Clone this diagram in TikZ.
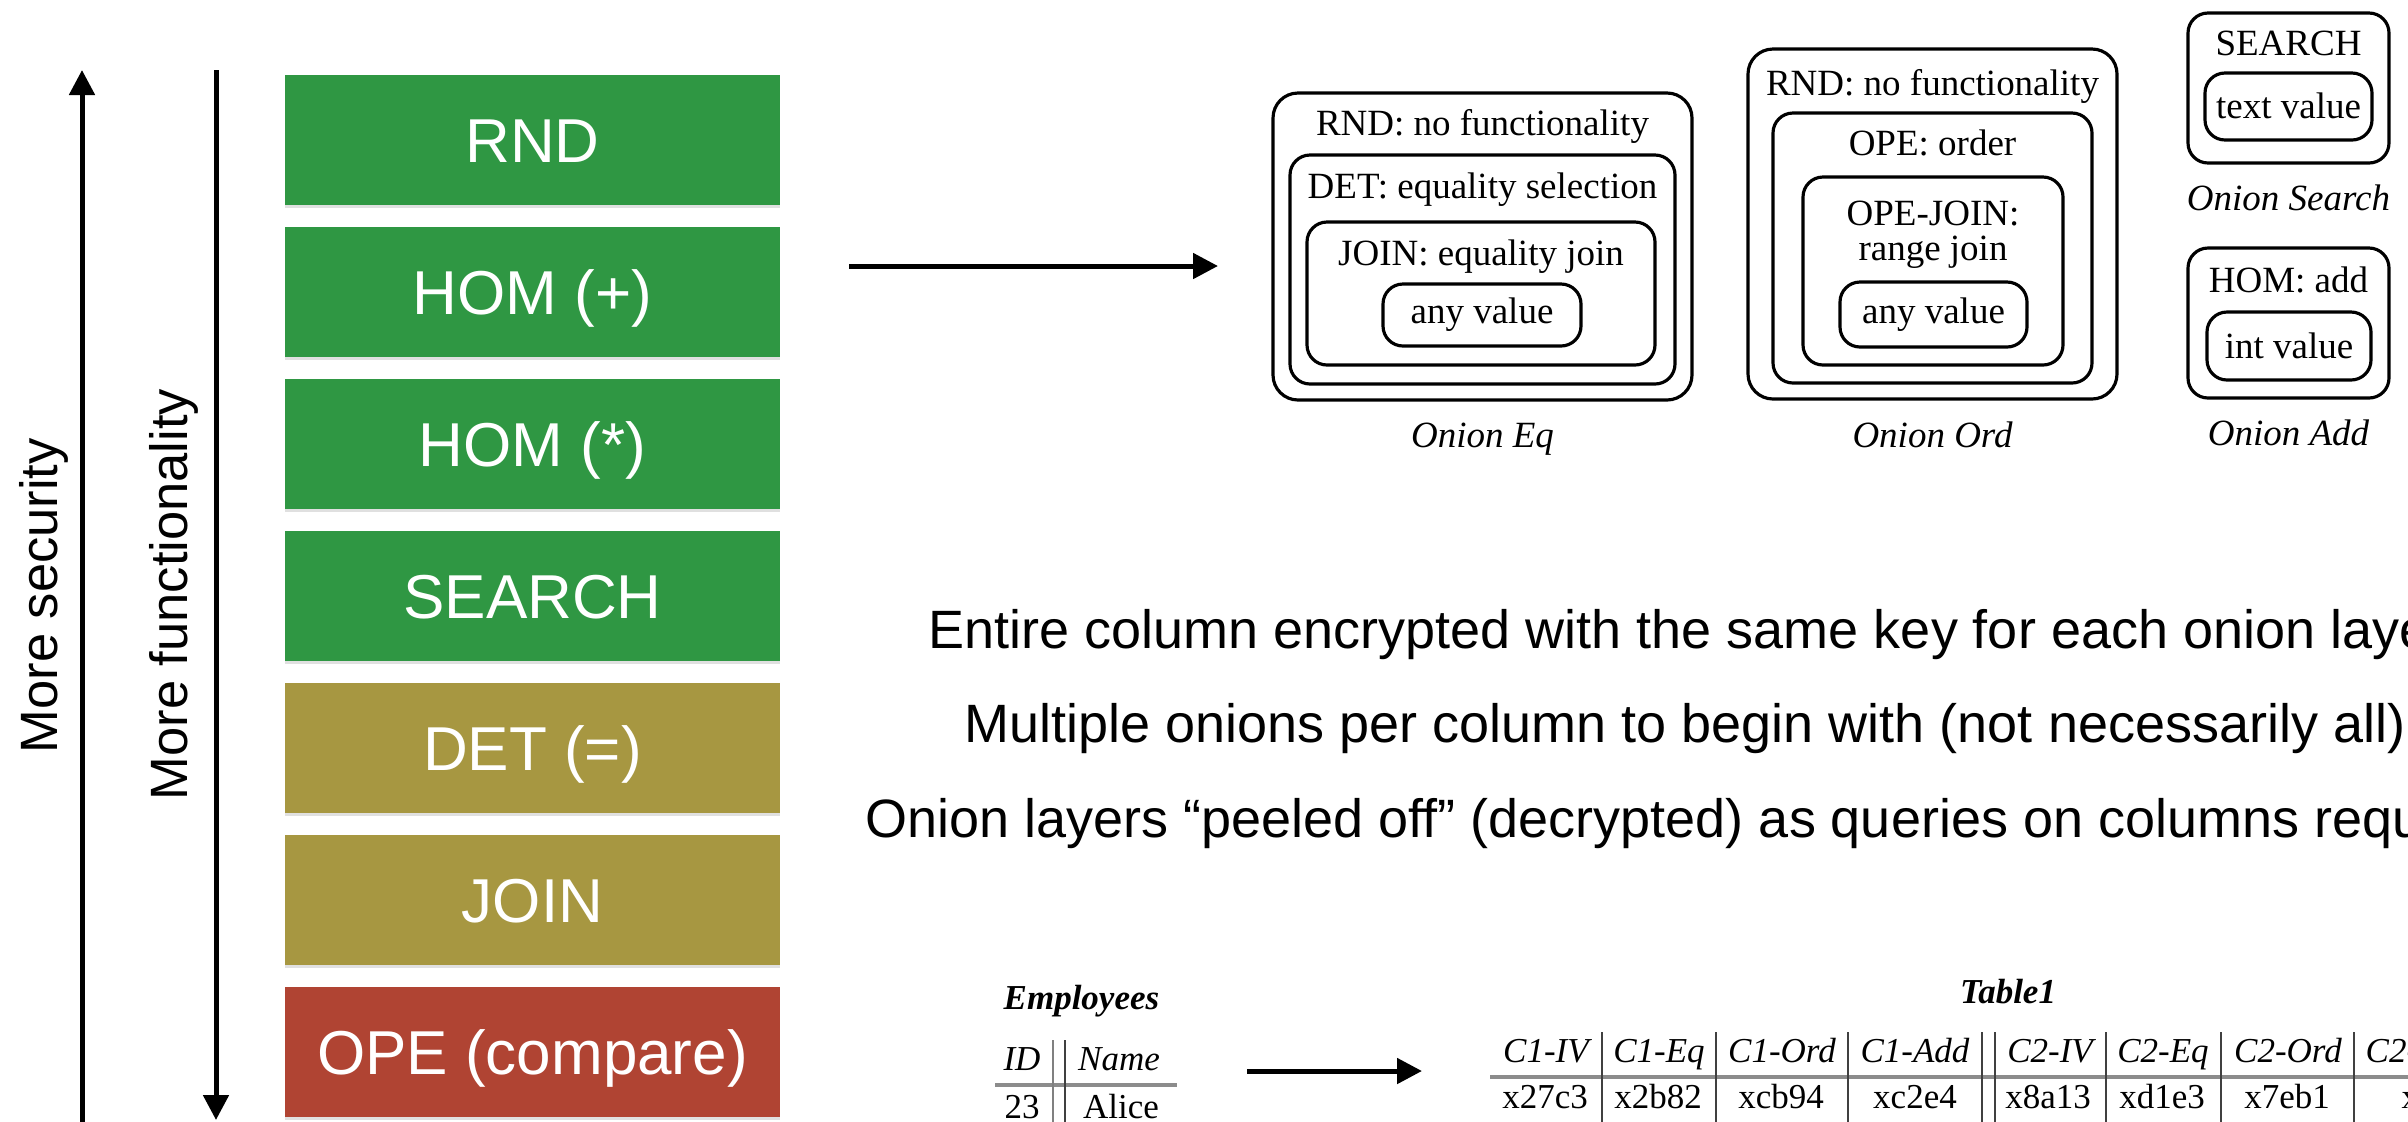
\documentclass[tikz,border=0pt]{standalone}
\usepackage{fontspec}
\setmainfont{Liberation Serif}
\newfontfamily\hsans{Liberation Sans}
\usetikzlibrary{arrows.meta,shadows}
\definecolor{lgreen}{RGB}{47,151,67}
\definecolor{lolive}{RGB}{167,151,65}
\definecolor{lred}{RGB}{176,68,51}
\begin{document}
\begin{tikzpicture}[x=0.3pt,y=-0.3pt,
  level/.style={rectangle, minimum width=148.5pt, minimum height=39pt, inner sep=0pt,
    text=white, font=\hsans\fontsize{18.6}{20}\selectfont, text height=13.3pt, text depth=0pt,
    drop shadow={shadow xshift=0pt, shadow yshift=-0.9pt, opacity=0.12, fill=black}},
  side/.style={font=\hsans\fontsize{15.75}{17}\selectfont, inner sep=0pt, rotate=90, anchor=base west},
  body/.style={font=\hsans\fontsize{16.2}{18}\selectfont, inner sep=0pt, anchor=base west},
  arr/.style={line width=1.5pt, -{Triangle[length=7.5pt,width=7.5pt]}},
  onion/.style={draw, line width=0.95pt, rounded corners=6pt, inner sep=0pt},
  otxt/.style={font=\fontsize{11.1}{13}\selectfont, inner sep=0pt, anchor=base},
  olab/.style={otxt, font=\fontsize{11.1}{13}\selectfont\itshape},
  tb/.style={font=\fontsize{10.5}{12}\selectfont, inner sep=0pt, anchor=base},
  tbh/.style={tb, font=\fontsize{10.5}{12}\selectfont\itshape},
  tbt/.style={tb, font=\fontsize{10.5}{12}\selectfont\bfseries\itshape},
  vline/.style={line width=0.75pt, black!75},
  hrule/.style={line width=1.1pt, black!45}
]
\useasboundingbox (0,0) rectangle (2408,1121);
\fill[white] (0,0) rectangle (2408,1121);
\clip (0,0) rectangle (2408,1121);

% ---- axes ----
\coordinate (secBot) at (82,1130);
\coordinate (secTop) at (82,70);
\draw[arr] (secBot) -- (secTop);
\coordinate (funTop) at (216,70);
\coordinate (funBot) at (216,1120);
\draw[arr] (funTop) -- (funBot);
\node[side] (msec) at (57,754) {More security};
\node[side] (mfun) at (187,801) {More functionality};

% ---- levels ----
\node[level, fill=lgreen] (rnd) at (532.5,140) {RND};
\node[level, fill=lgreen] (homp) at (532.5,292) {HOM (+)};
\node[level, fill=lgreen] (homm) at (532.5,444) {HOM (*)};
\node[level, fill=lgreen] (srch) at (532.5,596) {SEARCH};
\node[level, fill=lolive] (det) at (532.5,748) {DET (=)};
\node[level, fill=lolive] (join) at (532.5,900) {JOIN};
\node[level, fill=lred] (ope) at (532.5,1052) {OPE (compare)};

% ---- arrow to onions ----
\coordinate (a1s) at (849,266);
\coordinate (a1e) at (1218,266);
\draw[arr] (a1s) -- (a1e);

% ---- Onion Eq ----
\node[onion, rounded corners=7.5pt, minimum width=125.7pt, minimum height=92.1pt] (eqo) at (1482.5,246.5) {};
\node[onion, minimum width=115.5pt, minimum height=68.7pt] (eqd) at (1482.5,269.5) {};
\node[onion, minimum width=104.4pt, minimum height=42.9pt] (eqj) at (1481,293.5) {};
\node[onion, minimum width=59.4pt, minimum height=18.6pt] (eqa) at (1482,315) {};
\node[otxt] (eqt1) at (1482.5,135) {RND: no functionality};
\node[otxt] (eqt2) at (1482.5,198) {DET: equality selection};
\node[otxt] (eqt3) at (1481,265) {JOIN: equality join};
\node[otxt] (eqt4) at (1482,323) {any value};
\node[olab] (eql) at (1482.5,447) {Onion Eq};

% ---- Onion Ord ----
\node[onion, rounded corners=7.5pt, minimum width=110.7pt, minimum height=105pt] (oro) at (1932.5,224) {};
\node[onion, minimum width=95.7pt, minimum height=81pt] (orp) at (1932.5,248) {};
\node[onion, minimum width=78pt, minimum height=56.4pt] (orj) at (1933,271) {};
\node[onion, minimum width=56.1pt, minimum height=19.5pt] (ora) at (1933.5,314.5) {};
\node[otxt] (ort1) at (1932.5,95) {RND: no functionality};
\node[otxt] (ort2) at (1932.5,155) {OPE: order};
\node[otxt] (ort3) at (1933,225) {OPE-JOIN:};
\node[otxt] (ort4) at (1933,260) {range join};
\node[otxt] (ort5) at (1933.5,323) {any value};
\node[olab] (orl) at (1932.5,447) {Onion Ord};

% ---- Onion Search ----
\node[onion, minimum width=60.3pt, minimum height=45pt] (so) at (2288.5,88) {};
\node[onion, minimum width=50.1pt, minimum height=20.1pt] (si) at (2288.5,106.5) {};
\node[otxt] (st1) at (2288.5,55) {SEARCH};
\node[otxt] (st2) at (2288.5,118) {text value};
\node[olab] (sl) at (2288.5,210) {Onion Search};

% ---- Onion Add ----
\node[onion, minimum width=60.3pt, minimum height=45pt] (ao) at (2288.5,323) {};
\node[onion, minimum width=49.2pt, minimum height=20.4pt] (ai) at (2289,346) {};
\node[otxt] (at1) at (2288.5,292) {HOM: add};
\node[otxt] (at2) at (2289,358) {int value};
\node[olab] (al) at (2288.5,445) {Onion Add};

% ---- text lines ----
\node[body] (l1) at (928,648) {Entire column encrypted with the same key for each onion layer};
\node[body] (l2) at (964,742) {Multiple onions per column to begin with (not necessarily all)};
\node[body] (l3) at (865,837) {Onion layers “peeled off” (decrypted) as queries on columns require};

% ---- Employees table ----
\node[tbt, anchor=base west] (emp) at (1003,1009) {Employees};
\node[tbh] (eid) at (1022,1070) {ID};
\node[tbh] (ename) at (1119,1070) {Name};
\node[tb] (e23) at (1022,1118) {23};
\node[tb] (ealice) at (1121,1118) {Alice};
\draw[hrule] (995,1085) -- (1177,1085);
\draw[vline, black!50] (1053,1040) -- (1053,1125);
\draw[vline] (1065,1040) -- (1065,1125);

% ---- arrow to Table1 ----
\coordinate (a2s) at (1247,1071);
\coordinate (a2e) at (1422,1071);
\draw[arr] (a2s) -- (a2e);

% ---- Table1 ----
\node[tbt] (t1) at (2008,1003) {Table1};
\node[tbh] (h1) at (1546,1062) {C1-IV};
\node[tbh] (h2) at (1659,1062) {C1-Eq};
\node[tbh] (h3) at (1782,1062) {C1-Ord};
\node[tbh] (h4) at (1915,1062) {C1-Add};
\node[tbh] (h5) at (2050,1062) {C2-IV};
\node[tbh] (h6) at (2163,1062) {C2-Eq};
\node[tbh] (h7) at (2288,1062) {C2-Ord};
\node[tbh, anchor=base west] (h8) at (2365,1062) {C2-Add};
\node[tb] (d1) at (1545,1108) {x27c3};
\node[tb] (d2) at (1658,1108) {x2b82};
\node[tb] (d3) at (1781,1108) {xcb94};
\node[tb] (d4) at (1915,1108) {xc2e4};
\node[tb] (d5) at (2048,1108) {x8a13};
\node[tb] (d6) at (2162,1108) {xd1e3};
\node[tb] (d7) at (2287,1108) {x7eb1};
\node[tb, anchor=base west] (d8) at (2401,1108) {x};
\draw[hrule] (1490,1077) -- (2410,1077);
\foreach \xx in {1602,1716,1848,1982,1995,2106,2221,2354}
  \draw[vline] (\xx,1032) -- (\xx,1125);
\end{tikzpicture}
\end{document}
